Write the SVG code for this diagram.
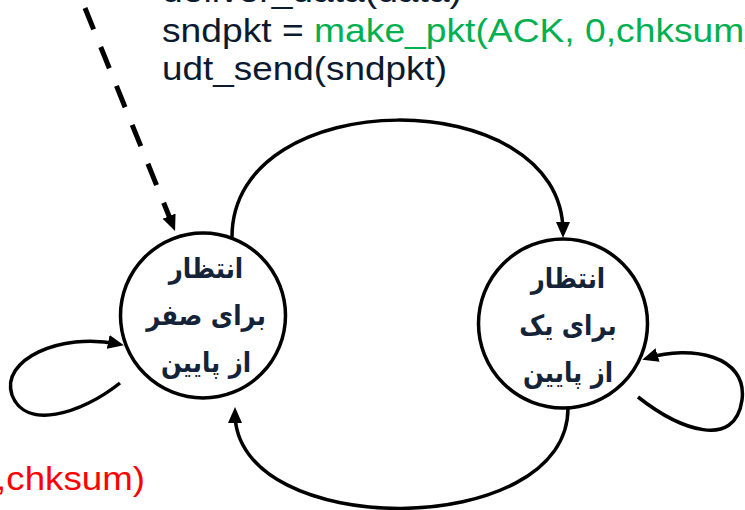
<svg xmlns="http://www.w3.org/2000/svg" width="745" height="510" viewBox="0 0 745 510">
  <style>
    .code { font-family: "Liberation Sans", Arial, sans-serif; font-size: 34px; fill: #0b1a2e; }
    .ok { fill: #00b050; }
    .err { fill: #ff0000; }
    .state { fill: #ffffff; stroke: #000000; stroke-width: 3.5; }
    .label { font-family: "DejaVu Sans", "Noto Sans", sans-serif; font-weight: bold; font-size: 28px; fill: #142338; text-anchor: middle; }
    .edge { fill: none; stroke: #000000; stroke-width: 3.5; marker-end: url(#arrow); }
    .init { fill: none; stroke: #000000; stroke-width: 5; stroke-dasharray: 23 19; marker-end: url(#arrow); }
  </style>
  <defs>
    <marker id="arrow" markerUnits="userSpaceOnUse" markerWidth="17" markerHeight="15" refX="10" refY="7" orient="auto">
      <path d="M0,0 L16,7 L0,14 z" fill="#000000"/>
    </marker>
  </defs>

  <rect width="745" height="510" fill="#ffffff"/>

  <!-- transition actions -->
  <g id="actions">
    <g transform="translate(162,0) scale(1.095,1)">
      <text class="code" x="0" y="2">deliver_data(data)</text>
      <text class="code" x="0" y="42">sndpkt = <tspan class="ok">make_pkt(ACK, 0,chksum)</tspan></text>
    </g>
    <g transform="translate(162,0) scale(1.085,1)">
      <text class="code" x="0" y="80">udt_send(sndpkt)</text>
    </g>
    <g transform="translate(145,490) scale(1.08,1)">
      <text class="code err" x="0" y="0" text-anchor="end">,chksum)</text>
    </g>
  </g>

  <!-- connectors -->
  <g id="connectors">
    <path class="init" d="M85,8 L172.8,225.4"/>
    <path class="edge" d="M232,237 C232,82 563,82 563,232"/>
    <path class="edge" d="M568,408 C568,541 235,541 235,413"/>
    <path class="edge" d="M120,383 C80,415 25,430 12,395 C0,360 60,332 118,344"/>
    <path class="edge" d="M638,397 C680,430 735,450 742,400 C748,355 690,345 648,358"/>
  </g>

  <!-- states -->
  <g id="wait0">
    <circle class="state" cx="203" cy="315.5" r="82.5"/>
    <g transform="translate(206,0) scale(0.87,1)">
      <text class="label" x="0" y="278">انتظار</text>
      <text class="label" x="0" y="325">برای صفر</text>
      <text class="label" x="0" y="372">از پایین</text>
    </g>
  </g>
  <g id="wait1">
    <circle class="state" cx="563" cy="323.5" r="84.5"/>
    <g transform="translate(568,0) scale(0.87,1)">
      <text class="label" x="0" y="288">انتظار</text>
      <text class="label" x="0" y="335">برای یک</text>
      <text class="label" x="0" y="382">از پایین</text>
    </g>
  </g>
</svg>
